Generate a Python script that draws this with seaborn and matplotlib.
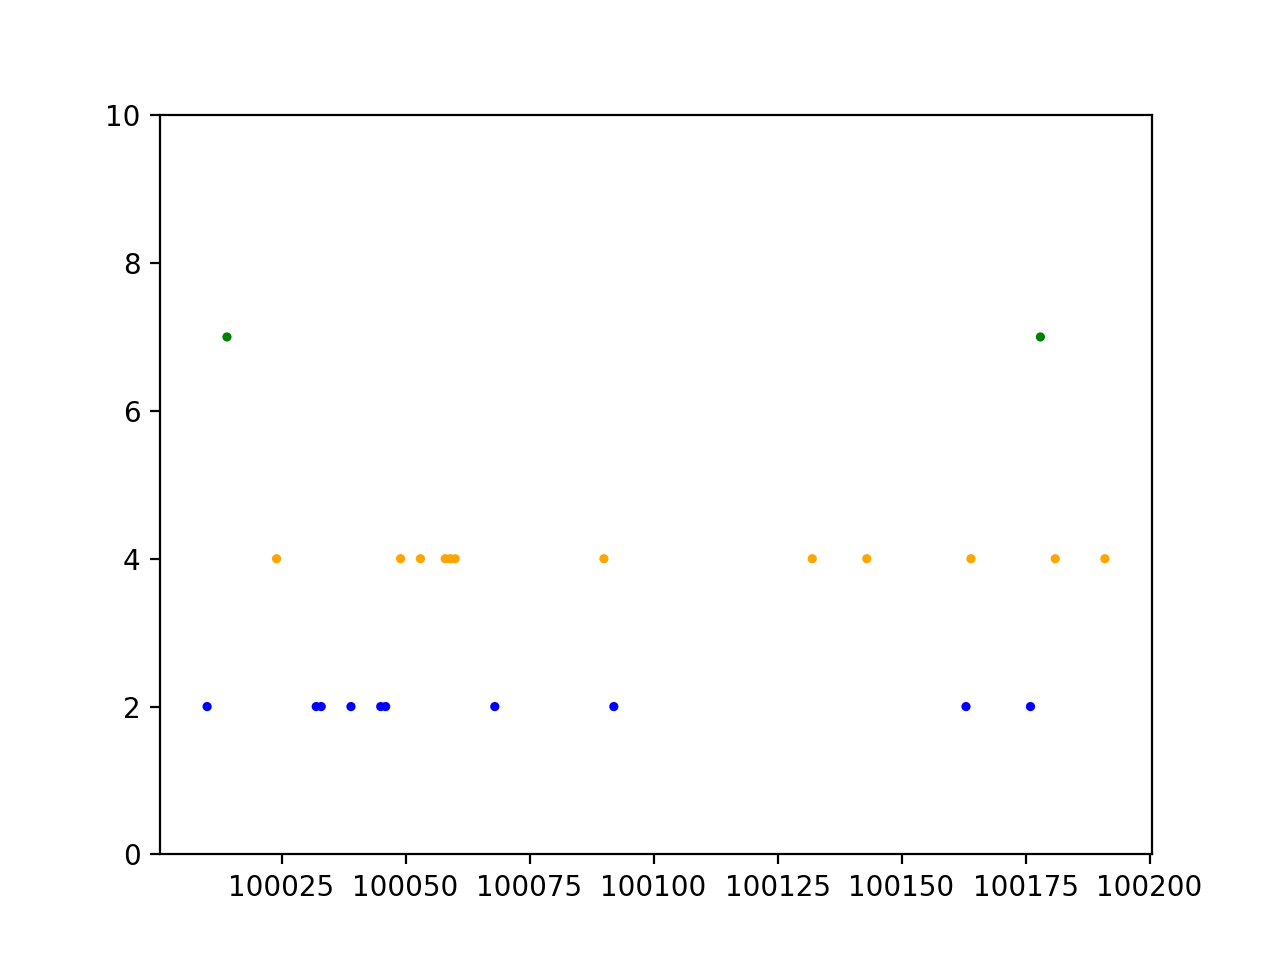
import pandas as pd
import matplotlib
matplotlib.use('Agg')
import matplotlib.pyplot as plt
import seaborn as sns

# positions per level
blue_x = [100010, 100032, 100033, 100039, 100045, 100046, 100068, 100092, 100163, 100176]
blue_y = [2] * len(blue_x)
orange_x = [100024, 100049, 100053, 100058, 100059, 100060, 100090, 100132, 100143, 100164, 100181, 100191]
orange_y = [4] * len(orange_x)
green_x = [100014, 100178]
green_y = [7] * len(green_x)

df = pd.concat([
    pd.DataFrame({'pos': blue_x, 'val': blue_y, 'kind': 'blue'}),
    pd.DataFrame({'pos': orange_x, 'val': orange_y, 'kind': 'orange'}),
    pd.DataFrame({'pos': green_x, 'val': green_y, 'kind': 'green'}),
], ignore_index=True)

fig, ax = plt.subplots(figsize=(6.4, 4.8), dpi=200)
sns.scatterplot(data=df, x='pos', y='val', hue='kind',
                palette={'blue': 'blue', 'orange': 'orange', 'green': 'green'},
                s=11, linewidth=0, legend=False, ax=ax)
ax.set_xlim(100000.5, 100200.5)
ax.set_ylim(0, 10)
ax.set_xlabel('')
ax.set_ylabel('')
ax.ticklabel_format(axis='x', useOffset=False, style='plain')

plt.savefig('out.png', dpi=200)
